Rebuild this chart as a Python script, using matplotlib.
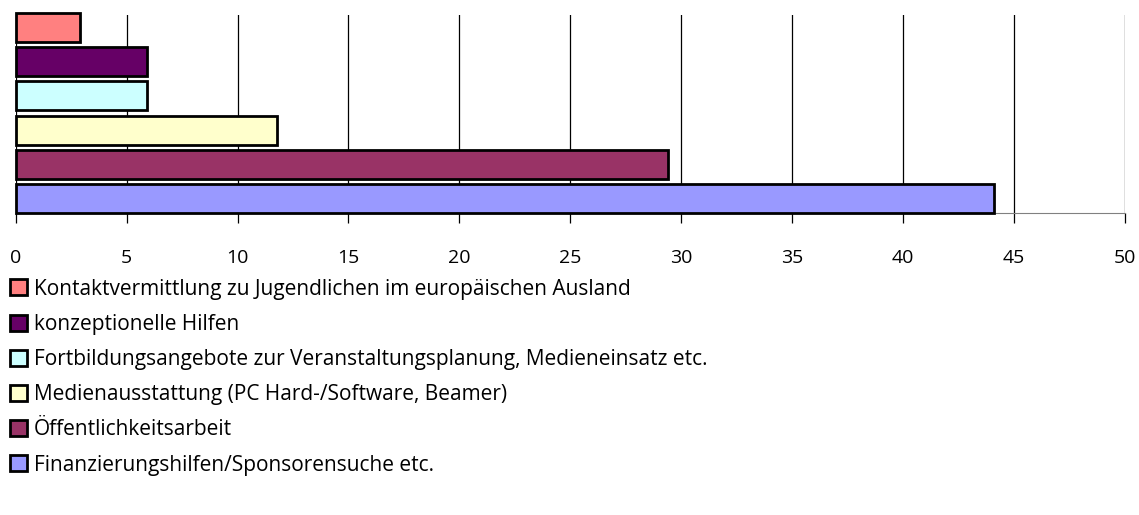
import matplotlib
matplotlib.use("Agg")
import matplotlib.pyplot as plt

categories = [
    "Kontaktvermittlung zu Jugendlichen im europäischen Ausland",
    "konzeptionelle Hilfen",
    "Fortbildungsangebote zur Veranstaltungsplanung, Medieneinsatz etc.",
    "Medienausstattung (PC Hard-/Software, Beamer)",
    "Öffentlichkeitsarbeit",
    "Finanzierungshilfen/Sponsorensuche etc.",
]
values = [2.9, 5.9, 5.9, 11.8, 29.4, 44.1]
colors = ["#FF8080", "#660066", "#CCFFFF", "#FFFFCC", "#993366", "#9999FF"]
xticks = [0, 5, 10, 15, 20, 25, 30, 35, 40, 45, 50]

plt.rcParams["font.family"] = ["Open Sans", "DejaVu Sans"]
FS = 15

fig = plt.figure(figsize=(11.39, 5.15), dpi=100)
ax = fig.add_axes([15.7/1139, (515-213)/515, (1125-15.7)/1139, (213-15)/515])

n = len(values)
handles = []
for i, (c, v, col) in enumerate(zip(categories, values, colors)):
    b = ax.barh(i, v, height=0.85, color=col, edgecolor="black", linewidth=2,
                label=c, zorder=3, clip_on=False)
    handles.append(b)

ax.set_ylim(5.424, -0.365)
ax.set_xlim(0, 50)
ax.set_xticks(xticks)
ax.set_xticklabels([str(t) for t in xticks], fontsize=14)
ax.set_yticks([])
ax.grid(axis="x", color="black", linewidth=0.9, zorder=0)
for s in ["top", "right", "left"]:
    ax.spines[s].set_visible(False)
ax.spines["bottom"].set_color("#808080")
ax.tick_params(axis="x", direction="out", length=7, width=0.9, color="black", pad=19)

fig.legend(handles=handles, labels=categories, loc="upper left",
           bbox_to_anchor=(6/1139, (515-274.5)/515), frameon=False, fontsize=FS,
           handlelength=0.8, handleheight=0.8, handletextpad=0.35,
           labelspacing=0.68, borderaxespad=0, borderpad=0.2)

fig.savefig("out.png", dpi=100)
